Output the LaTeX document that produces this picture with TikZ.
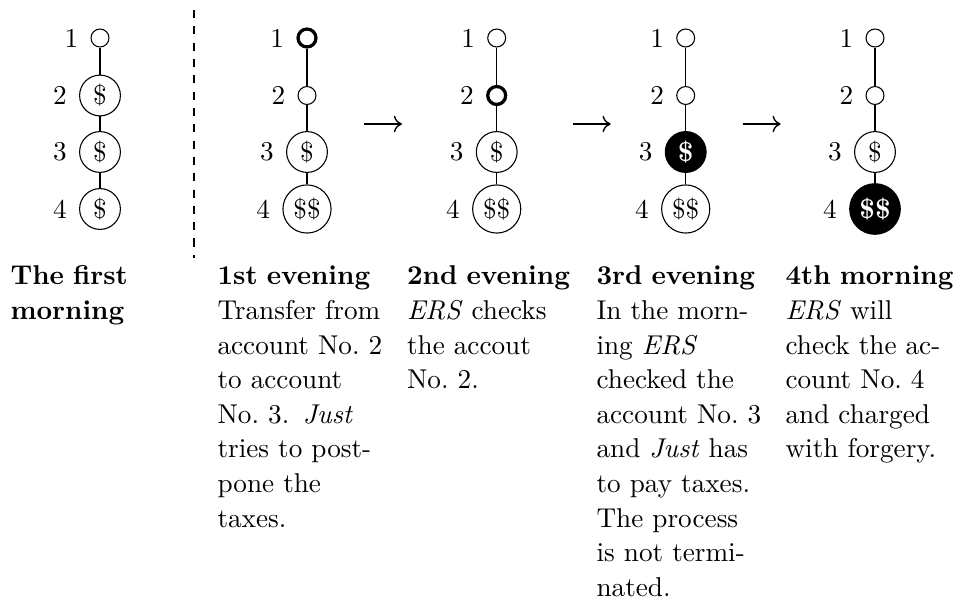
\documentclass[tikz,border=0pt]{standalone}
\usetikzlibrary{arrows.meta}
\begin{document}
\begin{tikzpicture}[x=0.36765pt,y=-0.36765pt,
  every node/.style={font=\fontsize{10}{12.72}\selectfont},
  acct/.style={draw,circle,inner sep=0pt,line width=0.4pt},
  emp/.style={acct,minimum size=6.6pt},
  one/.style={acct,minimum size=15pt},
  two/.style={acct,minimum size=17.7pt},
  cur/.style={line width=1.2pt},
  hit/.style={fill=black,text=white,font=\fontsize{10}{12.72}\selectfont\bfseries},
  hittwo/.style={hit,minimum size=18.6pt},
  lab/.style={label={[label distance=1pt]left:#1}},
  link/.style={line width=0.4pt},
  step arrow/.style={line width=0.5pt,-{To[length=3pt,width=6pt]}},
  col/.style={anchor=base west,inner sep=0pt,text width=75pt,align=left}
]
\useasboundingbox (0,0) rectangle (960,603);

% tree 1: the first morning
\node[emp,lab=1] (a1) at (100,38) {};
\node[one,lab=2] (a2) at (100,95.5) {\$};
\node[one,lab=3] (a3) at (100,152) {\$};
\node[one,lab=4] (a4) at (100,209) {\$};
\draw[link] (a1) -- (a2) (a2) -- (a3) (a3) -- (a4);

% separator
\coordinate (s1) at (194,10);
\coordinate (s2) at (194,258);
\draw[dashed,line width=0.4pt] (s1) -- (s2);

% tree 2: 1st evening
\node[emp,cur,lab=1] (b1) at (307,38) {};
\node[emp,lab=2] (b2) at (307,95.5) {};
\node[one,lab=3] (b3) at (307,152) {\$};
\node[two,lab=4] (b4) at (307,209) {\$\$};
\draw[link] (b1) -- (b2) (b2) -- (b3) (b3) -- (b4);

% tree 3: 2nd evening
\node[emp,lab=1] (c1) at (496.7,38) {};
\node[emp,cur,lab=2] (c2) at (496.7,95.5) {};
\node[one,lab=3] (c3) at (496.7,152) {\$};
\node[two,lab=4] (c4) at (496.7,209) {\$\$};
\draw[link] (c1) -- (c2) (c2) -- (c3) (c3) -- (c4);

% tree 4: 3rd evening
\node[emp,lab=1] (d1) at (685.7,38) {};
\node[emp,lab=2] (d2) at (685.7,95.5) {};
\node[one,hit,lab=3] (d3) at (685.7,152) {\$};
\node[two,lab=4] (d4) at (685.7,209) {\$\$};
\draw[link] (d1) -- (d2) (d2) -- (d3) (d3) -- (d4);

% tree 5: 4th morning
\node[emp,lab=1] (e1) at (875,38) {};
\node[emp,lab=2] (e2) at (875,95.5) {};
\node[one,lab=3] (e3) at (875,152) {\$};
\node[two,hittwo,lab=4] (e4) at (875,209) {\$\$};
\draw[link] (e1) -- (e2) (e2) -- (e3) (e3) -- (e4);

% arrows
\coordinate (p1) at (364,124);
\coordinate (q1) at (402,124);
\coordinate (p2) at (572.7,124);
\coordinate (q2) at (610.7,124);
\coordinate (p3) at (742.7,124);
\coordinate (q3) at (780.7,124);
\draw[step arrow] (p1) -- (q1);
\draw[step arrow] (p2) -- (q2);
\draw[step arrow] (p3) -- (q3);

% captions
\node[col] (t0) at (10,285) {\textbf{The first\\morning}};
\node[col] (t1) at (217,285) {\textbf{1st evening}\\Transfer from\\account No.~2\\to account\\No.~3. \emph{Just}\\tries to post-\\pone the\\taxes.};
\node[col] (t2) at (406.5,285) {\textbf{2nd evening}\\\emph{ERS} checks\\the accout\\No.~2.};
\node[col] (t3) at (596,285) {\textbf{3rd evening}\\In the morn-\\ing \emph{ERS}\\checked the\\account No.~3\\and \emph{Just} has\\to pay taxes.\\The process\\is not termi-\\nated.};
\node[col] (t4) at (785,285) {\textbf{4th morning}\\\emph{ERS} will\\check the ac-\\count No.~4\\and charged\\with forgery.};
\end{tikzpicture}
\end{document}
